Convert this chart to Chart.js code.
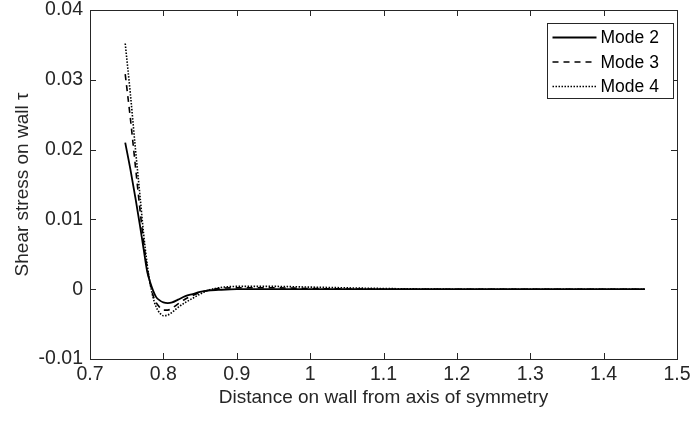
<!DOCTYPE html>
<html>
<head>
<meta charset="utf-8">
<script src="https://cdn.jsdelivr.net/npm/chart.js@4"></script>
<style>
  html, body { margin: 0; padding: 0; background: #fff; }
  #wrap { width: 691px; height: 421px; }
</style>
</head>
<body>
<div id="wrap"><canvas id="myChart" width="691" height="421"></canvas></div>
<script>
// distance on wall (x) for every sample
var xs = [0.748, 0.755, 0.762, 0.768, 0.773, 0.778, 0.782, 0.786, 0.790, 0.795,
          0.800, 0.806, 0.812, 0.820, 0.830, 0.840, 0.850, 0.860, 0.875, 0.900,
          0.950, 1.000, 1.100, 1.200, 1.300, 1.456];

// shear stress
var mode2 = [0.0210, 0.0172, 0.0130, 0.0092, 0.0058, 0.0025, 0.0010, -0.0002, -0.0011, -0.0016,
             -0.0019, -0.0020, -0.0019, -0.0015, -0.0010, -0.0007, -0.0004, -0.0002, -0.0001, 0.0000,
             0.0000, 0.0000, 0.0000, 0.0000, 0.0000, 0.0000];
var mode3 = [0.0308, 0.0245, 0.0175, 0.0115, 0.0068, 0.0030, 0.0008, -0.0009, -0.0019, -0.0026,
             -0.0030, -0.0030, -0.0027, -0.0021, -0.0014, -0.0009, -0.0005, -0.0002, 0.0001, 0.0002,
             0.0002, 0.0001, 0.0000, 0.0000, 0.0000, 0.0000];
var mode4 = [0.0352, 0.0280, 0.0200, 0.0135, 0.0080, 0.0035, 0.0008, -0.0012, -0.0025, -0.0034,
             -0.0038, -0.0037, -0.0033, -0.0026, -0.0019, -0.0013, -0.0007, -0.0002, 0.0002, 0.0004,
             0.0004, 0.0003, 0.0001, 0.0000, 0.0000, 0.0000];

var seriesNames = ['Mode 2', 'Mode 3', 'Mode 4'];
var xTicks = [0.7, 0.8, 0.9, 1, 1.1, 1.2, 1.3, 1.4, 1.5];
var yTicks = [-0.01, 0, 0.01, 0.02, 0.03, 0.04];

var axisColor = '#262626';
var fontName = '"Liberation Sans", Arial, Helvetica, sans-serif';

function pts(ys) {
  return xs.map(function (x, i) { return { x: x, y: ys[i] }; });
}

// box round the plot with inward ticks on all four sides (matlab look)
var boxPlugin = {
  id: 'box',
  afterDatasetsDraw: function (chart) {
    var ctx = chart.ctx, a = chart.chartArea;
    var sx = chart.scales.x, sy = chart.scales.y;
    var t = 6;
    ctx.save();
    ctx.strokeStyle = axisColor;
    ctx.lineWidth = 1;
    ctx.strokeRect(Math.round(a.left) + 0.5, Math.round(a.top) + 0.5,
                   Math.round(a.right - a.left), Math.round(a.bottom - a.top));
    ctx.beginPath();
    xTicks.forEach(function (v) {
      var px = Math.round(sx.getPixelForValue(v)) + 0.5;
      ctx.moveTo(px, a.bottom); ctx.lineTo(px, a.bottom - t);
      ctx.moveTo(px, a.top); ctx.lineTo(px, a.top + t);
    });
    yTicks.forEach(function (v) {
      var py = Math.round(sy.getPixelForValue(v)) + 0.5;
      ctx.moveTo(a.left, py); ctx.lineTo(a.left + t, py);
      ctx.moveTo(a.right, py); ctx.lineTo(a.right - t, py);
    });
    ctx.stroke();
    ctx.restore();
  }
};

// legend box in the top right corner
var legendPlugin = {
  id: 'boxLegend',
  afterDraw: function (chart) {
    var ctx = chart.ctx, a = chart.chartArea;
    var w = 126, h = 75;
    var x0 = Math.round(a.right - 4 - w) + 0.5, y0 = Math.round(a.top + 13) + 0.5;
    ctx.save();
    ctx.fillStyle = '#fff';
    ctx.fillRect(x0, y0, w, h);
    ctx.strokeStyle = axisColor;
    ctx.lineWidth = 1;
    ctx.strokeRect(x0, y0, w, h);
    ctx.font = '17.5px ' + fontName;
    ctx.textBaseline = 'middle';
    ctx.fillStyle = '#000';
    chart.data.datasets.forEach(function (ds, i) {
      var yy = y0 + 14 + i * 24.5;
      ctx.beginPath();
      ctx.strokeStyle = ds.borderColor;
      ctx.lineWidth = ds.borderWidth;
      ctx.setLineDash(ds.borderDash || []);
      ctx.moveTo(x0 + 5, yy); ctx.lineTo(x0 + 49, yy);
      ctx.stroke();
      ctx.setLineDash([]);
      ctx.fillText(ds.label, x0 + 53, yy + 1);
    });
    ctx.restore();
  }
};

function displayGraph() {
  var grapharea = document.getElementById('myChart');

  var data = {
    datasets: [{
      label: seriesNames[0],
      data: pts(mode2),
      borderColor: '#000',
      borderWidth: 1.8,
      borderDash: []
    }, {
      label: seriesNames[1],
      data: pts(mode3),
      borderColor: '#000',
      borderWidth: 1.6,
      borderDash: [6, 5]
    }, {
      label: seriesNames[2],
      data: pts(mode4),
      borderColor: '#000',
      borderWidth: 1.6,
      borderDash: [1.5, 1.5]
    }]
  };

  var config = {
    type: 'line',
    data: data,
    plugins: [boxPlugin, legendPlugin],
    options: {
      responsive: false,
      animation: false,
      events: [],
      layout: { padding: { left: 0, right: 14, top: 10, bottom: 0 } },
      elements: {
        point: { radius: 0 },
        line: { cubicInterpolationMode: 'monotone', borderCapStyle: 'butt' }
      },
      plugins: {
        legend: { display: false },
        tooltip: { enabled: false }
      },
      scales: {
        x: {
          type: 'linear',
          min: 0.7, max: 1.5,
          afterBuildTicks: function (s) { s.ticks = xTicks.map(function (v) { return { value: v }; }); },
          afterFit: function (s) { s.height = 62; s.paddingLeft = 0; s.paddingRight = 0; },
          grid: { display: false, drawTicks: false },
          border: { display: false },
          ticks: {
            padding: 4,
            color: axisColor,
            font: { family: fontName, size: 19.5 },
            maxRotation: 0,
            callback: function (v) { return String(Number(v.toFixed(2))); }
          },
          title: {
            display: true,
            text: 'Distance on wall from axis of symmetry',
            color: axisColor,
            font: { family: fontName, size: 19 },
            padding: { top: 0, bottom: 12 }
          }
        },
        y: {
          min: -0.01, max: 0.04,
          afterBuildTicks: function (s) { s.ticks = yTicks.map(function (v) { return { value: v }; }); },
          afterFit: function (s) { s.width = 90; s.paddingTop = 0; s.paddingBottom = 0; },
          grid: { display: false, drawTicks: false },
          border: { display: false },
          ticks: {
            padding: 7,
            color: axisColor,
            font: { family: fontName, size: 19.5 },
            callback: function (v) { return String(Number(v.toFixed(3))); }
          },
          title: {
            display: true,
            text: 'Shear stress on wall \u03c4',
            color: axisColor,
            font: { family: fontName, size: 19 },
            padding: { top: 11, bottom: 0 }
          }
        }
      }
    }
  };

  var myChart = new Chart(grapharea, config);
}
displayGraph();
</script>
</body>
</html>
